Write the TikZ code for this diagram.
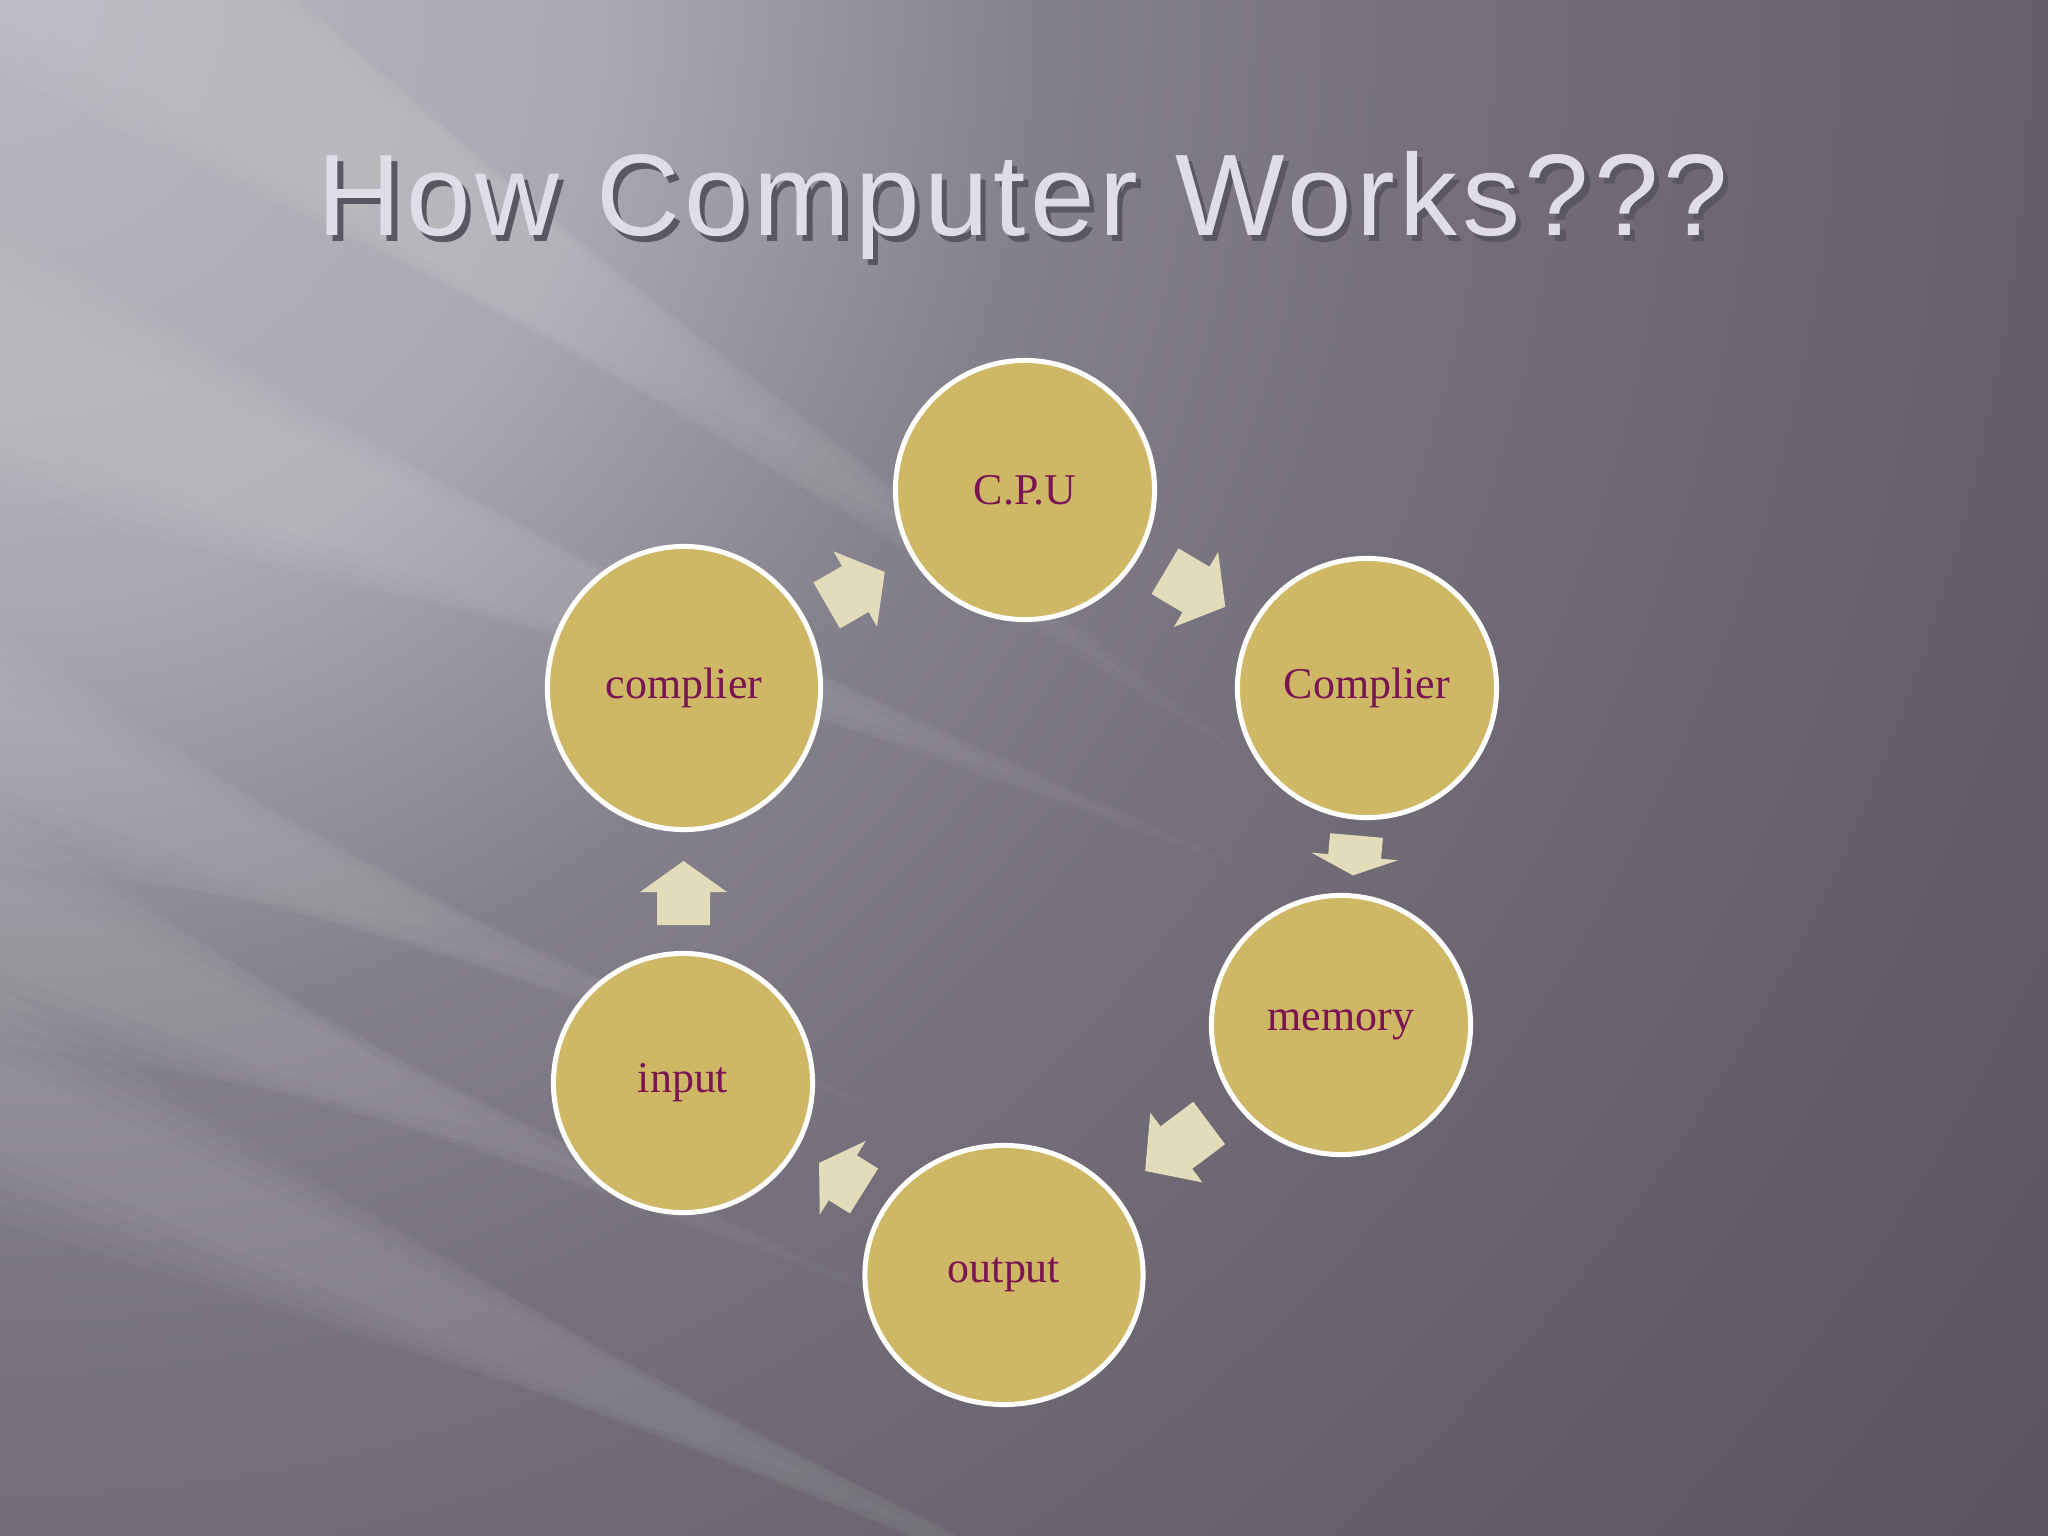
\documentclass[tikz,border=0pt]{standalone}
\usepackage{fontspec}
\setmainfont{Liberation Serif}
\newfontfamily\titlefont[LetterSpace=4]{Liberation Sans}
\usetikzlibrary{shapes.geometric}

\definecolor{bg0}{HTML}{BAB7C0}
\definecolor{bg1}{HTML}{ABA8B2}
\definecolor{bg2}{HTML}{85818C}
\definecolor{bg3}{HTML}{726D78}
\definecolor{bg4}{HTML}{645F69}
\definecolor{bg5}{HTML}{5A535D}
\definecolor{nodefill}{HTML}{CEB866}
\definecolor{nodetext}{HTML}{7A1452}
\definecolor{arrowfill}{HTML}{E3DCBB}
\definecolor{titlecol}{HTML}{E0DDE9}
\definecolor{titlesh}{HTML}{5A5662}

\pgfdeclareradialshading{bgrad}{\pgfpoint{0bp}{0bp}}{color(0bp)=(bg0); color(5.8bp)=(bg1); color(10bp)=(bg2); color(14.5bp)=(bg3); color(19.7bp)=(bg4); color(25bp)=(bg5); color(50bp)=(bg5)}

\tikzset{
  stage/.style={circle, fill=nodefill, draw=white, line width=0.5mm, inner sep=0pt,
    minimum size=2.59cm, text=nodetext, font=\fontsize{12.5}{15}\selectfont},
  ovalstage/.style={stage, ellipse},
  blockarrow/.style={fill=arrowfill},
  titlestyle/.style={anchor=base, text=titlecol, font=\titlefont\fontsize{33}{36}\selectfont}
}

\newcommand{\barrow}[5]{% x, y, angle (screen), length, head length
  \begin{scope}[shift={(#1,#2)}, rotate=-#3]
    \fill[blockarrow] (0,-26.5) -- ({#4-#5},-26.5) -- ({#4-#5},-43.5) -- (#4,0)
      -- ({#4-#5},43.5) -- ({#4-#5},26.5) -- (0,26.5) -- cycle;
  \end{scope}}

% soft light ray: left edge y-from, y-to, apex x, apex y (apexes staggered for a soft end)
\newcommand{\softray}[4]{%
  \pgfmathsetmacro{\rayslope}{(#4-(#1+#2)/2)/#3}%
  \foreach \k in {0,1,2,3,4} {
    \fill[white, opacity=0.028] (0,{#1-\k*18}) -- ({#3-\k*110},{#4-\k*110*\rayslope}) -- (0,{#2+\k*18}) -- cycle;
  }}

\newcommand{\titletext}{How Computer Works???}

\begin{document}
\begin{tikzpicture}[x=0.01cm, y=-0.01cm]
\useasboundingbox (0,0) rectangle (2048,1536);
% background
\begin{scope}
  \clip (0,0) rectangle (2048,1536);
  \shade[shading=bgrad] (0,0) circle (2600);
  % light rays
  \softray{-200}{0}{1250}{760}
  \softray{300}{430}{1250}{870}
  \softray{700}{790}{880}{1110}
  \softray{880}{970}{920}{1310}
  \softray{1060}{1150}{1250}{1680}
\end{scope}

% title with soft shadow
\node[titlestyle] (title) at (1023,235)
  {\rlap{\hspace{1.5pt}\raisebox{-1.9pt}{\color{titlesh}\titletext}}\titletext};

% stages
\node[stage] (cpu) at (1025,490) {C.P.U};
\node[stage] (comp2) at (1367,688) {Complier};
\node[stage] (mem) at (1341,1025) {memory};
\node[ovalstage, minimum width=2.78cm, minimum height=2.59cm] (out) at (1004,1275) {output};
\node[stage] (in) at (683,1083) {input};
\node[ovalstage, minimum width=2.73cm, minimum height=2.83cm] (comp1) at (684,688) {complier};

% block arrows
\barrow{826.7}{605.5}{-30}{67}{34}
\barrow{1165}{571.2}{30.6}{70}{34}
\barrow{1356.5}{835.5}{95}{40}{19}
\barrow{1209.2}{1123}{143.2}{80}{39}
\barrow{864}{1191}{212}{53}{28}
\barrow{683.5}{925}{-90}{64}{31}
\end{tikzpicture}
\end{document}
